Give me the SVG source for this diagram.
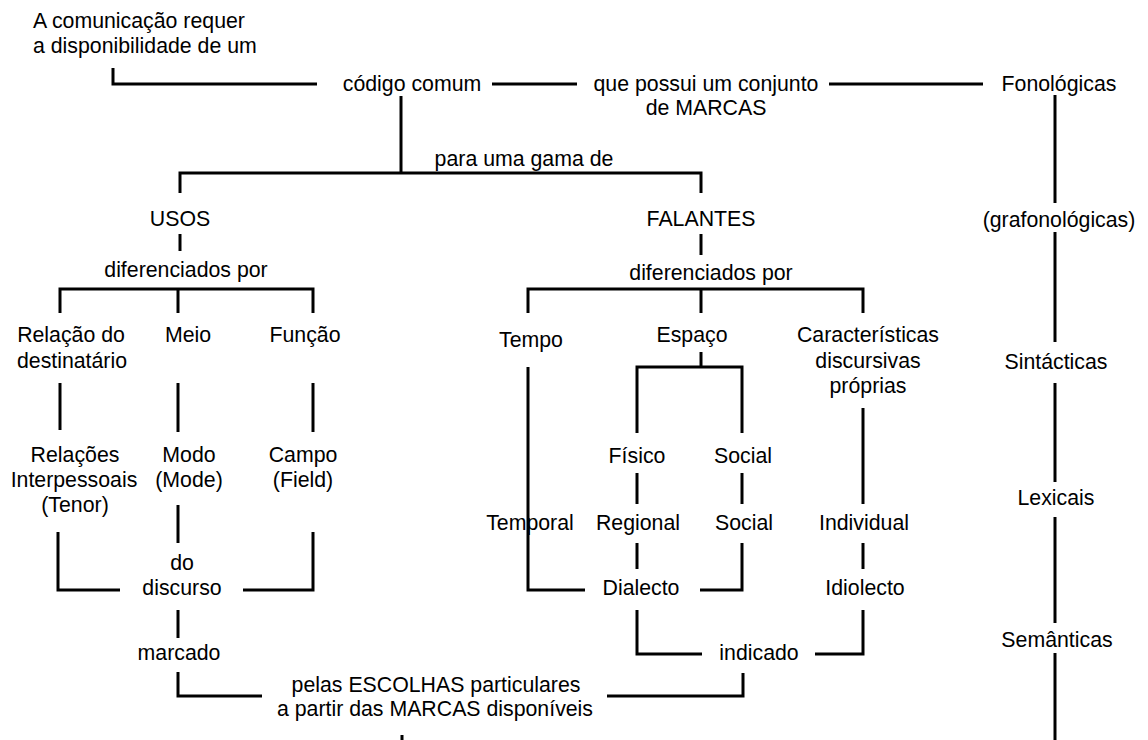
<svg xmlns="http://www.w3.org/2000/svg" width="1148" height="740" viewBox="0 0 1148 740">
<style>
text{font-family:"Liberation Sans",Arial,sans-serif;font-size:21.3px;fill:#000}
.c{text-anchor:middle}
.ln{fill:none;stroke:#000;stroke-width:3;stroke-linejoin:miter;stroke-linecap:butt}
</style>
<rect width="1148" height="740" fill="#fff"/>
<g id="connectors" class="ln">
<polyline points="113,68 113,84 317,84"/>
<line x1="492" y1="84" x2="577" y2="84"/>
<line x1="829" y1="84" x2="983" y2="84"/>
<line x1="1055" y1="95" x2="1055" y2="203"/>
<line x1="1055" y1="232" x2="1055" y2="342"/>
<line x1="1055" y1="383" x2="1055" y2="482"/>
<line x1="1055" y1="517" x2="1055" y2="623"/>
<line x1="1055" y1="653" x2="1055" y2="740"/>
<line x1="401" y1="96" x2="401" y2="173"/>
<polyline points="180,193 180,173 701,173 701,193"/>
<line x1="180" y1="234" x2="180" y2="251"/>
<polyline points="60,313 60,289 313,289 313,313"/>
<line x1="178" y1="289" x2="178" y2="313"/>
<line x1="60" y1="383" x2="60" y2="430"/>
<line x1="178" y1="383" x2="178" y2="432"/>
<line x1="313" y1="383" x2="313" y2="432"/>
<line x1="178" y1="505" x2="178" y2="543"/>
<polyline points="58,532 58,590 120,590"/>
<polyline points="243,590 313,590 313,532"/>
<line x1="178" y1="610" x2="178" y2="638"/>
<polyline points="178,672 178,696 262,696"/>
<polyline points="607,696 743,696 743,673"/>
<line x1="402" y1="735" x2="402" y2="740"/>
<line x1="701" y1="234" x2="701" y2="255"/>
<polyline points="528,313 528,289 863,289 863,313"/>
<line x1="701" y1="289" x2="701" y2="313"/>
<line x1="701" y1="352" x2="701" y2="367"/>
<polyline points="637,433 637,367 742,367 742,433"/>
<polyline points="528,367 528,590 585,590"/>
<polyline points="700,590 742,590 742,543"/>
<line x1="637" y1="473" x2="637" y2="504"/>
<line x1="742" y1="473" x2="742" y2="504"/>
<line x1="863" y1="408" x2="863" y2="504"/>
<line x1="637" y1="543" x2="637" y2="569"/>
<line x1="863" y1="543" x2="863" y2="569"/>
<polyline points="637,610 637,654 702,654"/>
<polyline points="815,654 863,654 863,610"/>
</g>
<g id="n-intro"><text x="33" y="28">A comunicação requer</text><text x="33" y="53">a disponibilidade de um</text></g>
<g id="n-codigo"><text class="c" x="412" y="91">código comum</text></g>
<g id="n-conjunto"><text class="c" x="706" y="91">que possui um conjunto</text><text class="c" x="706" y="115">de MARCAS</text></g>
<g id="n-fonologicas"><text class="c" x="1059" y="91">Fonológicas</text></g>
<g id="n-grafo"><text class="c" x="1059" y="227">(grafonológicas)</text></g>
<g id="n-sintacticas"><text class="c" x="1056" y="369">Sintácticas</text></g>
<g id="n-lexicais"><text class="c" x="1056" y="505">Lexicais</text></g>
<g id="n-semanticas"><text class="c" x="1057" y="647">Semânticas</text></g>
<g id="n-gama"><text class="c" x="524" y="166">para uma gama de</text></g>
<g id="n-usos"><text class="c" x="180" y="226">USOS</text></g>
<g id="n-falantes"><text class="c" x="701" y="226">FALANTES</text></g>
<g id="n-dif1"><text class="c" x="186" y="277">diferenciados por</text></g>
<g id="n-dif2"><text class="c" x="711" y="280">diferenciados por</text></g>
<g id="n-relacao"><text class="c" x="71" y="342">Relação do</text><text class="c" x="72" y="368">destinatário</text></g>
<g id="n-meio"><text class="c" x="188" y="342">Meio</text></g>
<g id="n-funcao"><text class="c" x="305" y="342">Função</text></g>
<g id="n-relacoes"><text class="c" x="75" y="462">Relações</text><text class="c" x="74" y="487">Interpessoais</text><text class="c" x="75" y="512">(Tenor)</text></g>
<g id="n-modo"><text class="c" x="189" y="462">Modo</text><text class="c" x="189" y="487">(Mode)</text></g>
<g id="n-campo"><text class="c" x="303" y="462">Campo</text><text class="c" x="303" y="487">(Field)</text></g>
<g id="n-discurso"><text class="c" x="182" y="570">do</text><text class="c" x="182" y="595">discurso</text></g>
<g id="n-marcado"><text class="c" x="179" y="660">marcado</text></g>
<g id="n-escolhas"><text class="c" x="436" y="692">pelas ESCOLHAS particulares</text><text class="c" x="435" y="716">a partir das MARCAS disponíveis</text></g>
<g id="n-tempo"><text class="c" x="531" y="347">Tempo</text></g>
<g id="n-espaco"><text class="c" x="692" y="342">Espaço</text></g>
<g id="n-caract"><text class="c" x="868" y="342">Características</text><text class="c" x="868" y="368">discursivas</text><text class="c" x="868" y="393">próprias</text></g>
<g id="n-fisico"><text class="c" x="637" y="463">Físico</text></g>
<g id="n-social1"><text class="c" x="743" y="463">Social</text></g>
<g id="n-temporal"><text class="c" x="530" y="530">Temporal</text></g>
<g id="n-regional"><text class="c" x="638" y="530">Regional</text></g>
<g id="n-social2"><text class="c" x="744" y="530">Social</text></g>
<g id="n-individual"><text class="c" x="864" y="530">Individual</text></g>
<g id="n-dialecto"><text class="c" x="641" y="595">Dialecto</text></g>
<g id="n-idiolecto"><text class="c" x="865" y="595">Idiolecto</text></g>
<g id="n-indicado"><text class="c" x="759" y="660">indicado</text></g>
</svg>
